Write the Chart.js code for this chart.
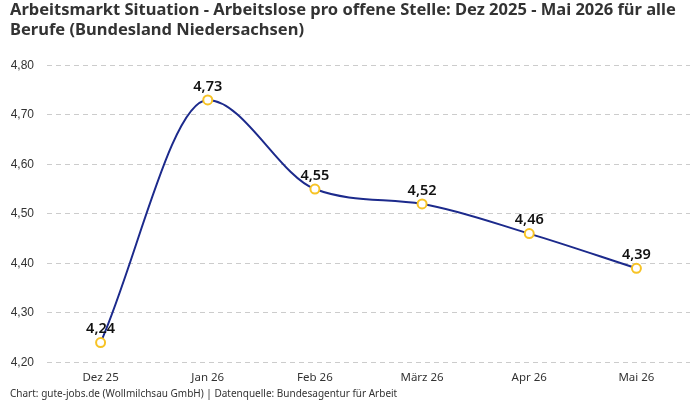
<!DOCTYPE html>
<html>
<head>
<meta charset="utf-8">
<script src="https://cdn.jsdelivr.net/npm/chart.js@4/dist/chart.umd.min.js"></script>
<style>
  html, body { margin: 0; padding: 0; background: #fff; }
  #wrap { width: 700px; height: 400px; }
</style>
</head>
<body>
<div id="wrap"><canvas id="grafica"></canvas></div>
<script>
// Daten
const monate = ['Dez 25', 'Jan 26', 'Feb 26', 'März 26', 'Apr 26', 'Mai 26'];
const werte = [4.24, 4.73, 4.55, 4.52, 4.46, 4.39];
const yTicks = [4.2, 4.3, 4.4, 4.5, 4.6, 4.7, 4.8];

const titelZeilen = [
  'Arbeitsmarkt Situation - Arbeitslose pro offene Stelle: Dez 2025 - Mai 2026 für alle',
  'Berufe (Bundesland Niedersachsen)'
];
const quelle = 'Chart: gute-jobs.de (Wollmilchsau GmbH) | Datenquelle: Bundesagentur für Arbeit';

function formatDe(v, stellen) {
  return v.toFixed(stellen).replace('.', ',');
}

// Werte über den Punkten
const wertLabels = {
  id: 'wertLabels',
  afterDatasetsDraw(chart) {
    const ctx = chart.ctx;
    const meta = chart.getDatasetMeta(0);
    ctx.save();
    ctx.font = '600 14.5px "Noto Sans", sans-serif';
    ctx.fillStyle = '#111';
    ctx.textAlign = 'center';
    ctx.textBaseline = 'bottom';
    meta.data.forEach((p, i) => {
      ctx.fillText(formatDe(werte[i], 2), p.x, p.y - 6);
    });
    ctx.restore();
  }
};

const ctx = document.getElementById('grafica').getContext('2d');
const myChart = new Chart(ctx, {
  type: 'line',
  data: {
    labels: monate,
    datasets: [{
      data: werte,
      borderColor: '#1c2a8c',
      borderWidth: 2,
      cubicInterpolationMode: 'monotone',
      pointRadius: 4.5,
      pointBorderWidth: 2,
      pointBorderColor: '#f7c325',
      pointBackgroundColor: '#ffffff',
      fill: false
    }]
  },
  options: {
    responsive: true,
    maintainAspectRatio: false,
    animation: false,
    layout: { padding: { left: 10, right: 10, top: 0, bottom: 0 } },
    plugins: {
      legend: { display: false },
      tooltip: { enabled: false },
      title: {
        display: true,
        text: titelZeilen,
        align: 'start',
        color: '#333',
        font: { family: '"Noto Sans", sans-serif', size: 16.5, weight: 'bold', lineHeight: 1.22 },
        padding: { top: 0, bottom: 25 }
      },
      subtitle: {
        display: true,
        position: 'bottom',
        text: quelle,
        align: 'start',
        color: '#333',
        font: { family: '"Noto Sans", sans-serif', size: 10, lineHeight: 1.1 },
        padding: { top: 4, bottom: 0 }
      }
    },
    scales: {
      x: {
        offset: true,
        grid: { display: false },
        border: { display: false },
        ticks: {
          color: '#333',
          font: { family: '"Noto Sans", sans-serif', size: 11.5, lineHeight: 1.1 },
          padding: 1
        }
      },
      y: {
        min: 4.2,
        max: 4.8,
        afterBuildTicks(axis) {
          axis.ticks = yTicks.map(v => ({ value: v }));
        },
        afterFit(axis) {
          axis.width = 37;
        },
        grid: {
          color: '#cccccc',
          drawTicks: false
        },
        border: { display: false, dash: [5, 4] },
        ticks: {
          color: '#333',
          font: { family: '"Liberation Sans", sans-serif', size: 12 },
          padding: 13,
          callback: v => formatDe(v, 2)
        }
      }
    }
  },
  plugins: [wertLabels]
});
</script>
</body>
</html>
